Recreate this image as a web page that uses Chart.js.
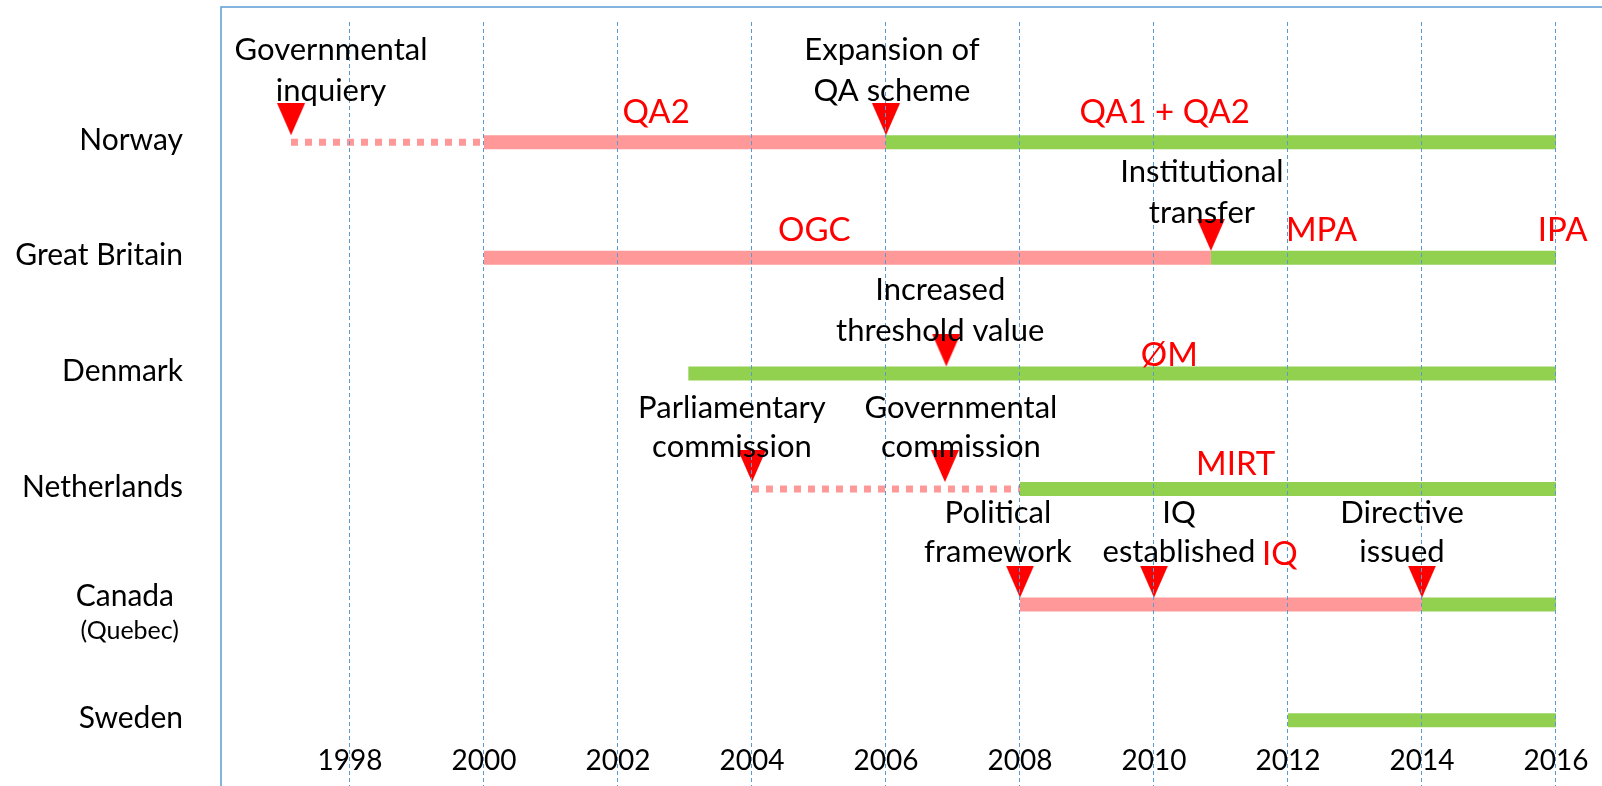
<!DOCTYPE html>
<html><head><meta charset="utf-8">
<script src="https://cdn.jsdelivr.net/npm/chart.js@4.4.1/dist/chart.umd.min.js"></script>
<style>html,body{margin:0;padding:0;background:#fff;overflow:hidden}canvas{display:block}</style>
</head><body>
<canvas id="c" width="1602" height="786" style="width:1602px;height:786px"></canvas>
<script>
// ---- data ----
const countries = ['Norway', 'Great Britain', 'Denmark', 'Netherlands', 'Canada', 'Sweden'];
const countryNotes = ['', '', '', '', '(Quebec)', ''];
const yearTicks = [1998, 2000, 2002, 2004, 2006, 2008, 2010, 2012, 2014, 2016];

// timeline segments
const segRow  = [0, 0, 0, 1, 1, 2, 3, 3, 4, 4, 5];
const segFrom = [1997.12, 2000, 2006, 2000, 2010.85, 2003.05, 2004, 2008, 2008, 2014, 2012];
const segTo   = [2000, 2006, 2016, 2010.85, 2016, 2016, 2008, 2016, 2014, 2016, 2016];
const segKind = ['prep', 'old', 'new', 'old', 'new', 'new', 'prep', 'new', 'old', 'new', 'new'];

// events (red triangles)
const eventRow  = [0, 0, 1, 2, 3, 3, 4, 4, 4];
const eventYear = [1997.12, 2006, 2010.85, 2006.9, 2004, 2006.88, 2008, 2010, 2014];
const eventText = [
  ['Governmental', 'inquiery'], ['Expansion of', 'QA scheme'], ['Institutional', 'transfer'],
  ['Increased', 'threshold value'], ['Parliamentary', 'commission'], ['Governmental', 'commission'],
  ['Political', 'framework'], ['IQ', 'established'], ['Directive', 'issued']
];

// body / scheme names (red)
const bodyRow  = [0, 0, 1, 1, 1, 2, 3, 4];
const bodyYear = [2002.57, 2010.16, 2004.93, 2012.5, 2016.1, 2010.23, 2011.22, 2011.88];
const bodyName = ['QA2', 'QA1 + QA2', 'OGC', 'MPA', 'IPA', 'ØM', 'MIRT', 'IQ'];

// ---- styles ----
const PINK = '#FF9999', GREEN = '#92D050', BLUE = '#5B9BD5', RED = '#FF0000';
const kindStyle = {
  prep: {color: PINK, width: 7, dash: [7, 7]},
  old:  {color: PINK, width: 14, dash: []},
  new:  {color: GREEN, width: 14, dash: []}
};
const noteShift = [40, 6, -9, -6, -20, 16, -22, 25, -20];
const noteDy = {0: [-92, -51], 1: [-86, -45], 2: [-83, -42], 3: [-81, -42], 4: [-92, -53]};
const bodyDy = [-30, -30, -27, -27, -27, -18, -25, -50];

// triangle marker image (tip slightly above the point)
const tri = document.createElement('canvas');
tri.width = 30; tri.height = 78;
(function () {
  const c = tri.getContext('2d');
  c.fillStyle = RED;
  c.beginPath(); c.moveTo(1, 0); c.lineTo(29, 0); c.lineTo(15, 32); c.closePath(); c.fill();
})();

const datasets = segRow.map((r, i) => {
  const st = kindStyle[segKind[i]];
  return {
    type: 'line',
    data: [{x: segFrom[i], y: r}, {x: segTo[i], y: r}],
    borderColor: st.color,
    borderWidth: st.width,
    borderDash: st.dash,
    borderCapStyle: 'butt',
    pointRadius: 0,
    fill: false,
    order: 2
  };
});
datasets.push({
  type: 'scatter',
  data: eventYear.map((v, i) => ({x: v, y: eventRow[i]})),
  pointStyle: tri,
  pointRadius: 15,
  order: 0
});

const decor = {
  id: 'decor',
  afterDraw(chart) {
    const {ctx, chartArea: a, scales: {x, y}} = chart;
    ctx.save();
    // frame
    ctx.strokeStyle = BLUE; ctx.lineWidth = 1.5;
    ctx.beginPath();
    ctx.moveTo(a.left, chart.height); ctx.lineTo(a.left, 7); ctx.lineTo(a.right, 7);
    ctx.stroke();
    ctx.textBaseline = 'middle';
    // year labels
    ctx.fillStyle = '#000';
    ctx.font = '28px Lato';
    ctx.textAlign = 'center';
    x.ticks.forEach(t => ctx.fillText(String(t.value), x.getPixelForValue(t.value), a.bottom - 25));
    // country labels
    ctx.textAlign = 'right';
    countries.forEach((name, i) => {
      const py = y.getPixelForValue(i);
      if (countryNotes[i]) {
        ctx.font = '30px Lato';
        ctx.fillText(name, a.left - 47, py - 8);
        ctx.font = '25px Lato';
        ctx.fillText(countryNotes[i], a.left - 42, py + 26);
      } else {
        ctx.font = '30px Lato';
        ctx.fillText(name, a.left - 38, py - 2);
      }
    });
    // event notes
    ctx.textAlign = 'center';
    ctx.font = '31px Lato';
    eventText.forEach((lines, i) => {
      const px = x.getPixelForValue(eventYear[i]) + noteShift[i];
      const py = y.getPixelForValue(eventRow[i]);
      const dy = noteDy[eventRow[i]];
      ctx.fillText(lines[0], px, py + dy[0]);
      ctx.fillText(lines[1], px, py + dy[1]);
    });
    // body names
    ctx.fillStyle = RED;
    ctx.font = '33px Lato';
    bodyName.forEach((n, i) => {
      ctx.fillText(n, x.getPixelForValue(bodyYear[i]), y.getPixelForValue(bodyRow[i]) + bodyDy[i]);
    });
    ctx.restore();
  }
};

new Chart(document.getElementById('c'), {
  type: 'line',
  data: {datasets},
  plugins: [decor],
  options: {
    responsive: false,
    animation: false,
    events: [],
    layout: {padding: {left: 221, top: 22, right: 0, bottom: 0}, autoPadding: false},
    plugins: {legend: {display: false}, tooltip: {enabled: false}},
    scales: {
      x: {
        type: 'linear',
        min: 1996.075,
        max: 2016.687,
        afterBuildTicks: s => { s.ticks = yearTicks.map(v => ({value: v})); },
        grid: {color: BLUE, lineWidth: 1, drawTicks: false, z: 1},
        border: {display: false, dash: [4, 3]},
        ticks: {display: false}
      },
      y: {
        type: 'linear',
        display: false,
        reverse: true,
        min: -1.04,
        max: 5.569
      }
    }
  }
});
</script>
</body></html>
